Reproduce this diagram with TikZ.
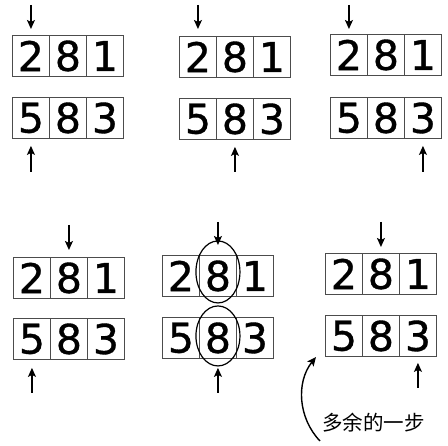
\documentclass[tikz,border=0pt]{standalone}
\usepackage{fontspec}
\setmainfont{DejaVu Sans}[FakeBold=0.8]
\newfontfamily\cjk{Noto Sans CJK SC}
\usetikzlibrary{arrows.meta,calc}
\tikzset{
  cell/.style={draw=black!70,line width=0.9pt,minimum width=37pt,minimum height=41pt,inner sep=0pt,anchor=north west,font=\fontsize{41}{41}\selectfont},
  ptr/.style={-{Stealth[length=9pt,width=8pt,inset=2pt]},line width=1.4pt},
  circ/.style={line width=1.2pt},
}
\newcommand\tri[6]{%
  \node[cell] (#1a) at (#2,#3) {#4};
  \node[cell] (#1b) at (#2+37,#3) {#5};
  \node[cell] (#1c) at (#2+74,#3) {#6};
}
\begin{document}
\begin{tikzpicture}[x=1pt,y=-1pt]
\useasboundingbox (0,0) rectangle (448,446);
% group 1
\tri{pA}{12}{35}{2}{8}{1}
\tri{qA}{12}{97}{5}{8}{3}
% group 2
\tri{pB}{179}{36}{2}{8}{1}
\tri{qB}{179}{98}{5}{8}{3}
% group 3
\tri{pC}{330}{34}{2}{8}{1}
\tri{qC}{330}{97}{5}{8}{3}
% group 4
\tri{pD}{13}{257}{2}{8}{1}
\tri{qD}{13}{318}{5}{8}{3}
% group 5
\tri{pE}{162}{255}{2}{8}{1}
\tri{qE}{162}{317}{5}{8}{3}
% group 6
\tri{pF}{325}{253}{2}{8}{1}
\tri{qF}{325}{315}{5}{8}{3}

% pointer coordinates
\coordinate (dA) at ($(pAa.north)+(0,-30)$);
\coordinate (uA) at ($(qAa.south)+(0,33)$);
\coordinate (dB) at ($(pBa.north)+(0,-31)$);
\coordinate (uB) at ($(qBb.south)+(0,32)$);
\coordinate (dC) at ($(pCa.north)+(0,-29)$);
\coordinate (uC) at ($(qCc.south)+(0,33)$);
\coordinate (dD) at ($(pDb.north)+(0,-32)$);
\coordinate (uD) at ($(qDa.south)+(0,33)$);
\coordinate (dE) at ($(pEb.north)+(0,-33)$);
\coordinate (uE) at ($(qEb.south)+(0,34)$);
\coordinate (dF) at ($(pFb.north)+(0,-31)$);
\coordinate (uF) at ($(qFc.south)+(0,31)$);

\draw[ptr,shorten >=6pt] (dA) -- (pAa.north);
\draw[ptr,shorten >=7pt] (uA) -- (qAa.south);
\draw[ptr,shorten >=7pt] (dB) -- (pBa.north);
\draw[ptr,shorten >=7pt] (uB) -- (qBb.south);
\draw[ptr,shorten >=5pt] (dC) -- (pCa.north);
\draw[ptr,shorten >=7pt] (uC) -- (qCc.south);
\draw[ptr,shorten >=7pt] (dD) -- (pDb.north);
\draw[ptr,shorten >=8pt] (uD) -- (qDa.south);
\draw[ptr,shorten >=10pt] (dE) -- (pEb.north);
\draw[ptr,shorten >=9pt] (uE) -- (qEb.south);
\draw[ptr,shorten >=6pt] (dF) -- (pFb.north);
\draw[ptr,shorten >=6pt] (uF) -- (qFc.south);

% circles around the middle 8s
\draw[circ] ($(pEb.center)+(0,-4)$) ellipse (22 and 31);
\draw[circ] ($(qEb.center)+(0,-2)$) ellipse (22 and 30);

% extra step annotation
\node[font=\cjk\fontsize{20.5}{20.5}\selectfont,anchor=west,inner sep=0pt] (lbl) at (322,423) {多余的一步};
\coordinate (cs) at (320,441);
\coordinate (ce) at (316,357);
\draw[ptr] (cs) .. controls (298,418) and (296,382) .. (ce);
\end{tikzpicture}
\end{document}
